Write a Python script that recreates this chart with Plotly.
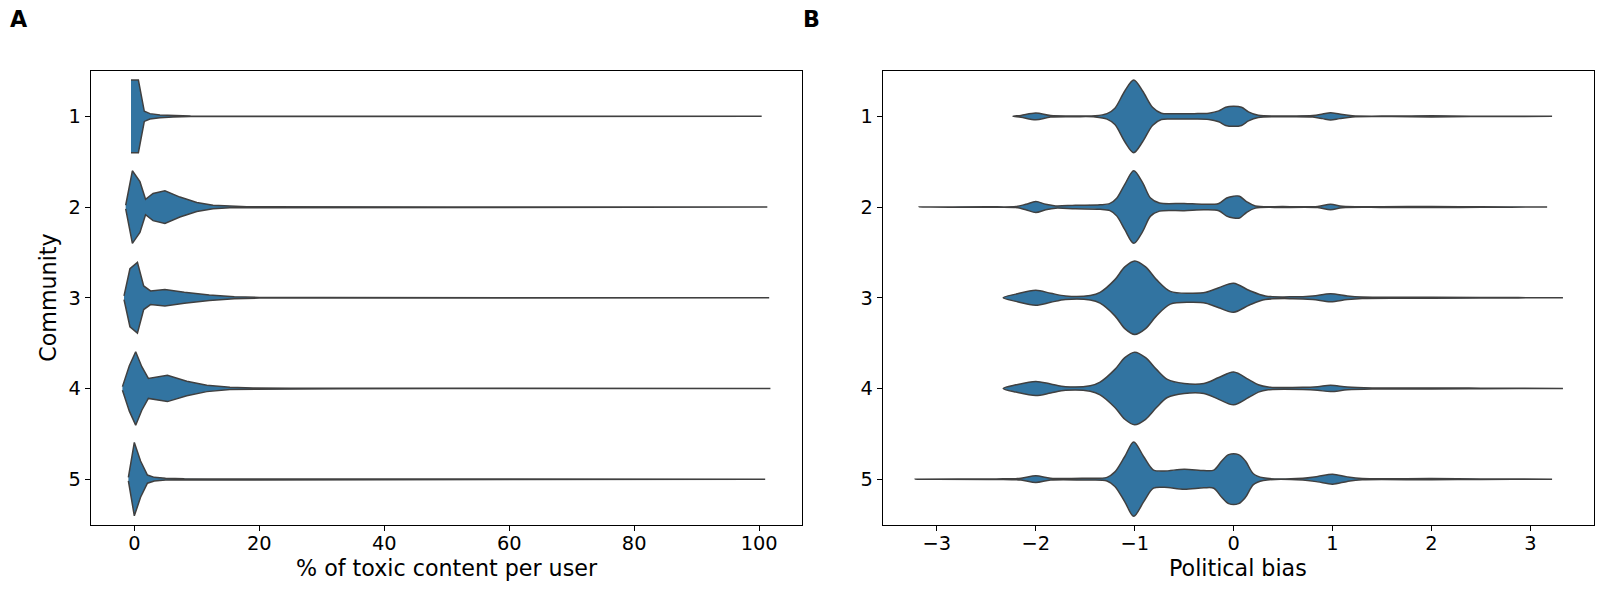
import plotly.graph_objects as go

# ---------------- data ----------------
communities = [1, 2, 3, 4, 5]

# Panel A: % of toxic content per user -- violin half-widths (in category units)
tox_c1_x = [-0.53, 0.65, 1.6, 2.5, 4.1, 6.2, 9, 15, 20, 30, 60, 100.4]
tox_c1_w = [0.40, 0.40, 0.056, 0.03, 0.015, 0.007, 0.003, 0.002, 0.002, 0.001, 0.001, 0.0]

tox_c2_x = [-1.38, -0.31, 0.9, 1.8, 3.0, 4.9, 7.3, 10, 12.6, 15.3, 18, 20, 25, 33, 50, 101.3]
tox_c2_w = [0.02, 0.40, 0.28, 0.085, 0.15, 0.18, 0.11, 0.05, 0.02, 0.008, 0.004, 0.004, 0.003, 0.002, 0.001, 0.0]

tox_c3_x = [-1.65, -0.7, 0.5, 1.5, 2.6, 4.9, 8, 12, 16, 20, 30, 101.6]
tox_c3_w = [0.02, 0.32, 0.39, 0.13, 0.075, 0.09, 0.06, 0.03, 0.01, 0.004, 0.002, 0.0]

tox_c4_x = [-1.9, -0.8, 0.22, 1.2, 2.25, 5.3, 8.4, 11.6, 15.3, 19, 25, 33, 50, 101.8]
tox_c4_w = [0.02, 0.25, 0.405, 0.24, 0.11, 0.145, 0.08, 0.035, 0.012, 0.005, 0.003, 0.002, 0.001, 0.0]

tox_c5_x = [-0.95, 0.0, 1.0, 2.1, 3.2, 5, 8, 12, 100.96]
tox_c5_w = [0.02, 0.405, 0.2, 0.045, 0.02, 0.01, 0.004, 0.002, 0.0]

# Panel B: political bias -- violin half-widths (in category units)
pol_c1_x = [-2.23, -2.15, -2.0, -1.85, -1.6, -1.4, -1.28, -1.2, -1.1, -1.01, -0.92, -0.82, -0.73,
            -0.6, -0.4, -0.25, -0.15, -0.08, 0.0, 0.08, 0.15, 0.25, 0.5, 0.8, 0.9, 0.98, 1.07,
            1.2, 1.6, 2.0, 2.4, 3.22]
pol_c1_w = [0.0, 0.01, 0.037, 0.008, 0.004, 0.006, 0.03, 0.09, 0.28, 0.40, 0.28, 0.1, 0.035,
            0.03, 0.03, 0.035, 0.06, 0.1, 0.11, 0.1, 0.05, 0.012, 0.005, 0.008, 0.025, 0.04, 0.025,
            0.006, 0.003, 0.006, 0.002, 0.0]

pol_c2_x = [-3.18, -2.5, -2.2, -2.1, -2.0, -1.9, -1.8, -1.6, -1.35, -1.25, -1.18, -1.1, -1.01,
            -0.92, -0.84, -0.75, -0.5, -0.3, -0.15, -0.07, 0.0, 0.06, 0.13, 0.22, 0.5, 0.85,
            0.98, 1.1, 1.5, 2.0, 2.5, 3.17]
pol_c2_w = [0.0, 0.003, 0.006, 0.03, 0.06, 0.03, 0.012, 0.02, 0.025, 0.04, 0.1, 0.25, 0.40,
            0.27, 0.1, 0.045, 0.04, 0.03, 0.04, 0.1, 0.12, 0.12, 0.06, 0.012, 0.005, 0.006,
            0.03, 0.008, 0.004, 0.006, 0.002, 0.0]

pol_c3_x = [-2.33, -2.2, -2.0, -1.85, -1.7, -1.45, -1.35, -1.2, -1.1, -1.0, -0.89, -0.78, -0.64,
            -0.44, -0.28, -0.15, 0.0, 0.16, 0.32, 0.6, 0.8, 0.98, 1.15, 1.3, 2.0, 2.5, 3.33]
pol_c3_w = [0.0, 0.04, 0.082, 0.05, 0.02, 0.025, 0.06, 0.2, 0.34, 0.405, 0.34, 0.2, 0.07,
            0.05, 0.06, 0.11, 0.16, 0.08, 0.02, 0.01, 0.02, 0.045, 0.02, 0.008, 0.006, 0.003, 0.0]

pol_c4_x = [-2.33, -2.2, -2.0, -1.85, -1.7, -1.45, -1.35, -1.2, -1.1, -1.0, -0.89, -0.78, -0.67,
            -0.5, -0.3, -0.15, 0.0, 0.15, 0.25, 0.35, 0.7, 0.85, 0.98, 1.15, 1.4, 2.0, 2.5, 3.33]
pol_c4_w = [0.0, 0.04, 0.078, 0.05, 0.02, 0.03, 0.07, 0.21, 0.34, 0.40, 0.34, 0.21, 0.1,
            0.055, 0.055, 0.12, 0.18, 0.1, 0.04, 0.015, 0.012, 0.02, 0.035, 0.015, 0.006, 0.006,
            0.003, 0.0]

pol_c5_x = [-3.22, -2.4, -2.15, -2.0, -1.85, -1.5, -1.28, -1.2, -1.1, -1.01, -0.91, -0.81, -0.7,
            -0.5, -0.3, -0.2, -0.12, -0.05, 0.05, 0.12, 0.2, 0.3, 0.7, 0.85, 1.0, 1.15, 1.3,
            2.0, 2.5, 3.22]
pol_c5_w = [0.0, 0.003, 0.01, 0.037, 0.01, 0.01, 0.02, 0.08, 0.25, 0.41, 0.25, 0.1, 0.09,
            0.11, 0.095, 0.1, 0.2, 0.27, 0.27, 0.2, 0.06, 0.015, 0.01, 0.03, 0.055, 0.025,
            0.007, 0.007, 0.003, 0.0]

tox_x = [tox_c1_x, tox_c2_x, tox_c3_x, tox_c4_x, tox_c5_x]
tox_w = [tox_c1_w, tox_c2_w, tox_c3_w, tox_c4_w, tox_c5_w]
pol_x = [pol_c1_x, pol_c2_x, pol_c3_x, pol_c4_x, pol_c5_x]
pol_w = [pol_c1_w, pol_c2_w, pol_c3_w, pol_c4_w, pol_c5_w]

tox_ticks = [0, 20, 40, 60, 80, 100]
pol_ticks = [-3, -2, -1, 0, 1, 2, 3]
pol_tick_text = ["\u22123", "\u22122", "\u22121", "0", "1", "2", "3"]

# ---------------- styling ----------------
FILL = "#3274a1"
EDGE = "#404040"
FONT = "DejaVu Sans"
W, H = 1604, 589

fig = go.Figure()


def add_violin(xs, ws, center, xaxis, yaxis, shape):
    upper = [center - w for w in ws]
    lower = [center + w for w in ws]
    line = dict(color=EDGE, width=1.5)
    if shape == "spline":
        line.update(shape="spline", smoothing=0.9)
    fig.add_trace(go.Scatter(
        x=list(xs) + list(xs)[::-1],
        y=upper + lower[::-1],
        mode="lines",
        fill="toself",
        fillcolor=FILL,
        line=line,
        xaxis=xaxis, yaxis=yaxis,
        hoverinfo="skip",
        showlegend=False,
    ))


for c, xs, ws in zip(communities, tox_x, tox_w):
    add_violin(xs, ws, c, "x", "y", "linear")
for c, xs, ws in zip(communities, pol_x, pol_w):
    add_violin(xs, ws, c, "x2", "y2", "spline")

# pixel geometry of the axes boxes
axA = (90.7, 802.3)
axB = (882.7, 1594.2)
ax_top, ax_bot = 71.0, 524.5


def px(v):
    return v / W


def py(v):
    return 1 - v / H


common_axis = dict(
    showline=True, linecolor="black", linewidth=1.1, mirror=True,
    ticks="outside", ticklen=5, tickwidth=1.1, tickcolor="black",
    showgrid=False, zeroline=False,
    tickfont=dict(family=FONT, size=19.4, color="black"),
)

fig.update_layout(
    width=W, height=H,
    margin=dict(l=0, r=0, t=0, b=0),
    paper_bgcolor="white", plot_bgcolor="white",
    font=dict(family=FONT, color="black"),
    xaxis=dict(domain=[px(axA[0]), px(axA[1])], range=[-6.98, 106.9],
               tickvals=tox_ticks, anchor="y", ticklabelstandoff=-4, **common_axis),
    yaxis=dict(domain=[py(ax_bot), py(ax_top)], range=[5.5, 0.5],
               tickvals=communities, anchor="x", **common_axis),
    xaxis2=dict(domain=[px(axB[0]), px(axB[1])], range=[-3.548, 3.646],
                tickvals=pol_ticks, ticktext=pol_tick_text, anchor="y2",
                ticklabelstandoff=-4, **common_axis),
    yaxis2=dict(domain=[py(ax_bot), py(ax_top)], range=[5.5, 0.5],
                tickvals=communities, anchor="x2", **common_axis),
)

ann = [
    dict(text="% of toxic content per user", x=px(sum(axA) / 2), y=py(568),
         font=dict(size=22.2)),
    dict(text="Political bias", x=px(sum(axB) / 2), y=py(568), font=dict(size=22.2)),
    dict(text="Community", x=px(48), y=py((ax_top + ax_bot) / 2), textangle=-90,
         font=dict(size=22.2)),
    dict(text="<b>A</b>", x=px(18.5), y=py(19), font=dict(size=22.2)),
    dict(text="<b>B</b>", x=px(811), y=py(19), font=dict(size=22.2)),
]
for a in ann:
    a.update(xref="paper", yref="paper", showarrow=False,
             xanchor="center", yanchor="middle")
    a["font"].update(family=FONT, color="black")
    fig.add_annotation(**a)

fig.write_html(
    "out.html",
    config={"displayModeBar": False},
    post_script="document.body.style.margin='0';document.body.style.overflow='hidden';",
)
